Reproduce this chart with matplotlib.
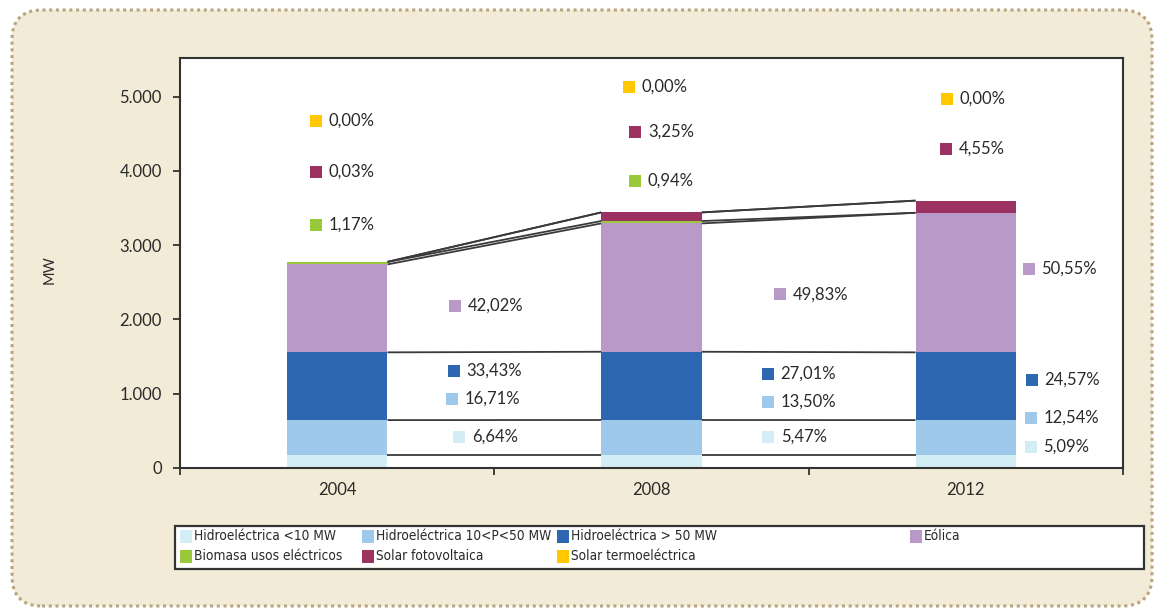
import matplotlib.pyplot as plt
import numpy as np
from matplotlib import font_manager
from matplotlib.patches import FancyBboxPatch, Rectangle
from matplotlib.transforms import IdentityTransform

plt.rcParams['font.family'] = ['Lato', 'DejaVu Sans']

years = ['2004', '2008', '2012']
series = ['Hidroeléctrica <10 MW', 'Hidroeléctrica 10<P<50 MW', 'Hidroeléctrica > 50 MW',
          'Eólica', 'Biomasa usos eléctricos', 'Solar fotovoltaica', 'Solar termoeléctrica']
colors = ['#d3edf4', '#9fc9ea', '#2e67b1', '#b899c8', '#99c93a', '#9b3262', '#ffc800']

# MW per series
hidro_lt10 = [180, 180, 180]
hidro_10_50 = [465, 466, 465]
hidro_gt50 = [912, 919, 912]
eolica = [1184, 1728, 1879]
biomasa = [33, 32, 0]
fotovoltaica = [1, 116, 164]
termoelectrica = [0, 0, 0]

# share labels (None = no label)
pct_2004 = ['6,64%', '16,71%', '33,43%', '42,02%', '1,17%', '0,03%', '0,00%']
pct_2008 = ['5,47%', '13,50%', '27,01%', '49,83%', '0,94%', '3,25%', '0,00%']
pct_2012 = ['5,09%', '12,54%', '24,57%', '50,55%', None, '4,55%', '0,00%']

# where the labels sit (data coords of the colour square)
pos_2004 = [(0.388, 421), (0.365, 929), (0.372, 1310), (0.375, 2181), (-0.067, 3278), (-0.067, 3985), (-0.067, 4672)]
pos_2008 = [(1.371, 417), (1.371, 889), (1.371, 1265), (1.409, 2336), (0.949, 3864), (0.949, 4524), (0.928, 5136)]
pos_2012 = [(2.207, 287), (2.207, 677), (2.21, 1185), (2.201, 2679), None, (1.937, 4295), (1.939, 4968)]

values = np.array([hidro_lt10, hidro_10_50, hidro_gt50, eolica, biomasa, fotovoltaica, termoelectrica], dtype=float)
W, H = 1161, 609
fig = plt.figure(figsize=(W / 100, H / 100), dpi=100)
fig.patch.set_facecolor('white')

panel = FancyBboxPatch((12, 3), 1140, 596, boxstyle='round,pad=0,rounding_size=30',
                       transform=IdentityTransform(), facecolor='#f2ebd7', edgecolor='#b9a47f',
                       linestyle=(0, (1, 1.2)), linewidth=2.2, zorder=-10)
fig.add_artist(panel)

ax = fig.add_axes([180 / W, 1 - 468 / H, (1123 - 180) / W, (468 - 58) / H])
ax.set_facecolor('white')

x = np.arange(len(years))
bw = 0.32
bottoms = np.zeros(len(years))
tops = []
for vals, col in zip(values, colors):
    ax.bar(x, vals, bw, bottom=bottoms, color=col, linewidth=0, zorder=2)
    bottoms = bottoms + vals
    tops.append(bottoms.copy())

# series lines between bars
for top in tops:
    for i in range(len(years) - 1):
        ax.plot([x[i] + bw / 2, x[i + 1] - bw / 2], [top[i], top[i + 1]],
                color='#3a3a3a', lw=1.3, zorder=3, solid_capstyle='butt')

for pcts, poss in zip([pct_2004, pct_2008, pct_2012], [pos_2004, pos_2008, pos_2012]):
    for txt, p, col in zip(pcts, poss, colors):
        if txt is None:
            continue
        ax.scatter([p[0]], [p[1]], marker='s', s=78, color=col, linewidths=0, zorder=4)
        ax.annotate(txt, p, xytext=(9, 0), textcoords='offset points', va='center',
                    ha='left', fontsize=12, color='#2a2a2a')

ax.set_xlim(-0.5, 2.5)
ax.set_ylim(0, 5520)
ax.set_yticks(range(0, 5001, 1000))
ax.set_yticklabels(['0', '1.000', '2.000', '3.000', '4.000', '5.000'])
ax.set_xticks(x)
ax.set_xticklabels(years)
ax.set_xticks([-0.5, 0.5, 1.5, 2.5], minor=True)
ax.tick_params(axis='x', which='major', length=0, pad=10, labelsize=12, colors='#2a2a2a')
ax.tick_params(axis='x', which='minor', length=5, width=1.3, color='#333333')
ax.tick_params(axis='y', length=5, width=1.3, pad=8, labelsize=12, colors='#2a2a2a', color='#333333')
for s in ax.spines.values():
    s.set_color('#333333')
    s.set_linewidth(1.5)

fig.text(50 / W, 1 - 270 / H, 'MW', rotation=90, ha='center', va='center', fontsize=10.5, color='#2a2a2a')

# legend text is condensed in the original; use a narrow face if one is installed
narrow = [f for f in font_manager.fontManager.ttflist
          if f.style == 'normal' and f.weight in (400, 'normal', 'regular')
          and ('Narrow' in f.name or 'Condensed' in f.name or f.stretch in ('condensed', 'semi-condensed'))
          and 'Mono' not in f.name and 'Serif' not in f.name]
if narrow:
    leg_font = font_manager.FontProperties(fname=narrow[0].fname, size=9.8)
else:
    leg_font = font_manager.FontProperties(family='Lato', size=9)

# legend box drawn by hand to keep the original column spacing
fig.add_artist(Rectangle((175 / W, 1 - 569 / H), (1144 - 175) / W, 43 / H, transform=fig.transFigure,
                         facecolor='white', edgecolor='#333333', linewidth=1.6))
col_x = [180, 362, 557, 910]
row_y = [536, 556.5]
for k, (name, col) in enumerate(zip(series, colors)):
    r, c = divmod(k, 4)
    fig.add_artist(Rectangle((col_x[c] / W, 1 - (row_y[r] + 6.5) / H), 12 / W, 13 / H,
                             transform=fig.transFigure, facecolor=col, linewidth=0))
    fig.text((col_x[c] + 14) / W, 1 - row_y[r] / H, name, ha='left', va='center',
             fontproperties=leg_font, color='#2a2a2a')

fig.savefig('out.png', dpi=100)
